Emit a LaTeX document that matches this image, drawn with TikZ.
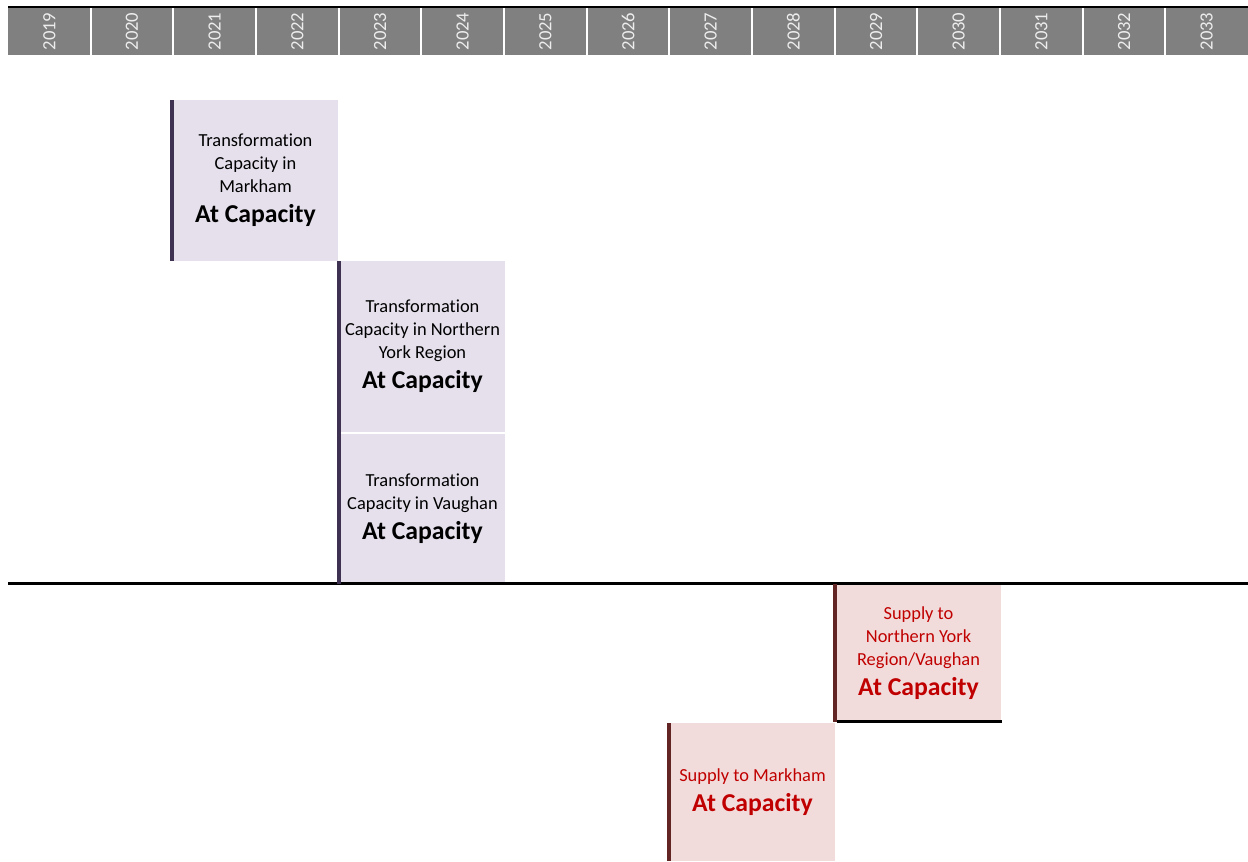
\documentclass[tikz,border=0pt]{standalone}
\usepackage{fontspec}
\setmainfont[Ligatures=NoCommon]{Carlito}
\definecolor{headgray}{HTML}{808080}
\definecolor{yeartext}{HTML}{EDEDED}
\definecolor{pfill}{HTML}{E5E0EC}
\definecolor{pbar}{HTML}{3F3151}
\definecolor{rfill}{HTML}{F2DCDB}
\definecolor{rbar}{HTML}{632523}
\definecolor{rtext}{HTML}{C00000}
\tikzset{
  yearlabel/.style={rotate=90, text=yeartext, font=\fontsize{14}{16}\selectfont, inner sep=0pt},
  sepline/.style={draw=white, line width=1.5pt},
  boxbase/.style={anchor=north west, inner sep=0pt, outer sep=0pt, align=center,
    minimum width=123.75pt, font=\fontsize{13.8}{17.25}\selectfont},
  pbox/.style={boxbase, fill=pfill, text=black},
  rbox/.style={boxbase, fill=rfill, text=rtext},
  pbarline/.style={draw=pbar, line width=3pt},
  rbarline/.style={draw=rbar, line width=3pt},
  rule/.style={draw=black, line width=1.8pt},
}
\newcommand{\atcapline}{\\[5pt]{\fontsize{19.3}{22}\selectfont\bfseries At Capacity}}
\begin{document}
\begin{tikzpicture}[x=0.75pt,y=-0.75pt]
\useasboundingbox (0,0) rectangle (1248,861);
% header
\fill[headgray] (8,8) rectangle (1248,55);
\coordinate (tl) at (8,7);
\coordinate (tr) at (1248,7);
\draw[rule, line width=1.5pt] (tl) -- (tr);
\foreach \i [evaluate=\i as \yr using int(2019+\i)] in {0,...,14}{
  \pgfmathsetmacro{\xa}{8+\i*82.67}
  \pgfmathsetmacro{\xc}{\xa+41.33}
  \node[yearlabel] (y\yr) at (\xc,31.5) {\yr};
  \ifnum\i>0
    \coordinate (s\i a) at (\xa,8);
    \coordinate (s\i b) at (\xa,55);
    \draw[sepline] (s\i a) -- (s\i b);
  \fi
}
% boxes
\node[pbox, minimum height=120.75pt] (b1) at (173,100)
  {Transformation\\Capacity in\\Markham\atcapline};
\node[pbox, minimum height=128.25pt] (b2) at (340,261)
  {Transformation\\Capacity in Northern\\York Region\atcapline};
\node[pbox, minimum height=111.75pt] (b3) at (340,434)
  {Transformation\\Capacity in Vaughan\atcapline};
\node[rbox, minimum height=103.5pt] (b4) at (836,584)
  {Supply to\\Northern York\\Region/Vaughan\atcapline};
\node[rbox, minimum height=103.5pt] (b5) at (670,723)
  {Supply to Markham\atcapline};
% rules
\coordinate (hl) at (8,583.5);
\coordinate (hr) at (1248,583.5);
\draw[rule] (hl) -- (hr);
\coordinate (b4bl) at (837,721.5);
\coordinate (b4br) at (1002,721.5);
\draw[rule] (b4bl) -- (b4br);
% left bars
\draw[pbarline] ([xshift=-0.75pt]b1.north west) -- ([xshift=-0.75pt]b1.south west);
\draw[pbarline] ([xshift=-0.75pt]b2.north west) -- ([xshift=-0.75pt,yshift=-0.5pt]b3.south west);
\draw[rbarline] ([xshift=-0.75pt]b4.north west) -- ([xshift=-0.75pt]b4.south west);
\draw[rbarline] ([xshift=-0.75pt]b5.north west) -- ([xshift=-0.75pt]b5.south west);
\end{tikzpicture}
\end{document}
